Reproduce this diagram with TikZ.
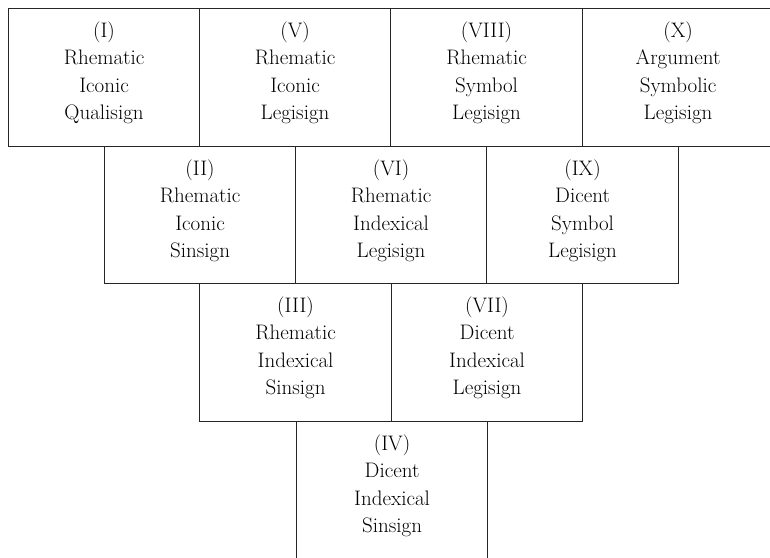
\documentclass[tikz,border=0pt]{standalone}
\begin{document}
\begin{tikzpicture}[x=1pt,y=1pt,
  cell/.style={draw=black!85, line width=1.1pt, anchor=north west, inner sep=0pt,
    minimum width=#1, minimum height=138pt},
  cell/.default=191pt,
  lbl/.style={anchor=north, inner sep=0pt, align=center, text=black,
    font=\fontsize{21}{27.5}\selectfont}]
\useasboundingbox (0,0) rectangle (770,-557);
\clip (0,0) rectangle (770,-557);
% row 1
\node[cell] (b1) at (8,-8) {};
\node[cell] (b5) at (199,-8) {};
\node[cell=192pt] (b8) at (390,-8) {};
\node[cell] (b10) at (582,-8) {};
% row 2
\node[cell, minimum height=137pt] (b2) at (104,-146) {};
\node[cell, minimum height=137pt] (b6) at (295,-146) {};
\node[cell=192pt, minimum height=137pt] (b9) at (486,-146) {};
% row 3
\node[cell=192pt] (b3) at (199,-283) {};
\node[cell] (b7) at (391,-283) {};
% row 4
\node[cell, minimum height=170pt] (b4) at (296,-421) {};
% labels
\node[lbl] (t1) at ([yshift=-13.5pt]b1.north) {(I)\\Rhematic\\Iconic\\Qualisign};
\node[lbl] (t5) at ([yshift=-13.5pt]b5.north) {(V)\\Rhematic\\Iconic\\Legisign};
\node[lbl] (t8) at ([yshift=-13.5pt]b8.north) {(VIII)\\Rhematic\\Symbol\\Legisign};
\node[lbl] (t10) at ([yshift=-13.5pt]b10.north) {(X)\\Argument\\Symbolic\\Legisign};
\node[lbl] (t2) at ([yshift=-13.5pt]b2.north) {(II)\\Rhematic\\Iconic\\Sinsign};
\node[lbl] (t6) at ([yshift=-13.5pt]b6.north) {(VI)\\Rhematic\\Indexical\\Legisign};
\node[lbl] (t9) at ([yshift=-13.5pt]b9.north) {(IX)\\Dicent\\Symbol\\Legisign};
\node[lbl] (t3) at ([yshift=-13.5pt]b3.north) {(III)\\Rhematic\\Indexical\\Sinsign};
\node[lbl] (t7) at ([yshift=-13.5pt]b7.north) {(VII)\\Dicent\\Indexical\\Legisign};
\node[lbl] (t4) at ([yshift=-13.5pt]b4.north) {(IV)\\Dicent\\Indexical\\Sinsign};
\end{tikzpicture}
\end{document}
